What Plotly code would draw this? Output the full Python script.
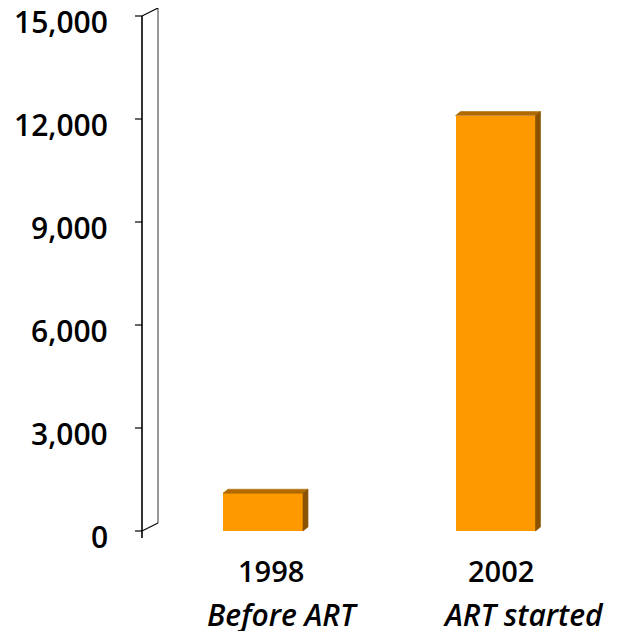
import plotly.graph_objects as go

# ---- data ----
years = ["1998", "2002"]
subtitles = ["Before ART", "ART started"]
values = [1100, 12100]
tick_vals = [0, 3000, 6000, 9000, 12000, 15000]
tick_text = ["0", "3,000", "6,000", "9,000", "12,000", "15,000"]

# ---- geometry / style (pixel values are in figure coordinates) ----
W, H = 611, 623
front_color = "#FF9900"
top_color = "#B06A00"
side_color = "#8A5300"
FONT = "Open Sans"
WEIGHT = 600

units_per_px_y = 3000 / 103.0
px_per_unit_x = 232.5
zero_px = 523          # pixel row of y=0
cat0_px = 255          # pixel column of category 0
m_l, m_r, m_t, m_b = 112, 0, 0, 90

ymax = (zero_px - m_t) * units_per_px_y
ymin = -((H - m_b) - zero_px) * units_per_px_y
xmin = (m_l - cat0_px) / px_per_unit_x
xmax = (W - m_r - cat0_px) / px_per_unit_x

bar_w = 80 / px_per_unit_x
bdx = 5 / px_per_unit_x          # bar depth (x)
bdy = 4 * units_per_px_y         # bar depth (y)
axis_x = (134 - cat0_px) / px_per_unit_x
tick_x0 = (127 - cat0_px) / px_per_unit_x
wdx = 16 / px_per_unit_x         # wall depth
wdy = 8 * units_per_px_y

year_shift = [8, 5]
sub_shift = [19, 28]

xs = list(range(len(years)))

fig = go.Figure()
# front faces
fig.add_trace(go.Bar(x=xs, y=values, width=bar_w, marker=dict(color=front_color, line=dict(width=0)),
                     showlegend=False, hoverinfo="skip"))
# top and side faces
for x, v in zip(xs, values):
    xl, xr = x - bar_w / 2, x + bar_w / 2
    fig.add_trace(go.Scatter(x=[xl, xl + bdx, xr + bdx, xr, xl], y=[v, v + bdy, v + bdy, v, v],
                             fill="toself", fillcolor=top_color, mode="lines",
                             line=dict(width=0.6, color=top_color), showlegend=False, hoverinfo="skip"))
    fig.add_trace(go.Scatter(x=[xr, xr + bdx, xr + bdx, xr, xr], y=[0, bdy, v + bdy, v, 0],
                             fill="toself", fillcolor=side_color, mode="lines",
                             line=dict(width=0.6, color=side_color), showlegend=False, hoverinfo="skip"))

shapes = []
top = tick_vals[-1]
# front axis line
shapes.append(dict(type="line", xref="x", yref="y", x0=axis_x, x1=axis_x, y0=-7 * units_per_px_y, y1=top,
                   line=dict(color="#000000", width=1.6)))
# back wall line
shapes.append(dict(type="line", xref="x", yref="y", x0=axis_x + wdx, x1=axis_x + wdx, y0=wdy, y1=top + wdy,
                   line=dict(color="#808080", width=1.6)))
# diagonals
for yv in (0, top):
    shapes.append(dict(type="line", xref="x", yref="y", x0=axis_x, x1=axis_x + wdx, y0=yv, y1=yv + wdy,
                       line=dict(color="#000000", width=1.2)))
# tick marks
for tv in tick_vals:
    shapes.append(dict(type="line", xref="x", yref="y", x0=tick_x0, x1=axis_x, y0=tv, y1=tv,
                       line=dict(color="#000000", width=1.2)))

annotations = []
# y tick labels
for tv, tt in zip(tick_vals, tick_text):
    annotations.append(dict(x=0, y=tv, xref="paper", yref="y", xanchor="right", yanchor="middle",
                            text=tt, showarrow=False, xshift=-10, yshift=-5,
                            font=dict(family=FONT, size=30, color="#000000", weight=WEIGHT)))
# category labels
for x, yr, sub, ys, ss in zip(xs, years, subtitles, year_shift, sub_shift):
    annotations.append(dict(x=x, y=0, xref="x", yref="paper", yanchor="middle", xanchor="center",
                            text=yr, showarrow=False, xshift=ys, yshift=-(562 - (H - m_b)),
                            font=dict(family=FONT, size=29, color="#000000", weight=WEIGHT)))
    annotations.append(dict(x=x, y=0, xref="x", yref="paper", yanchor="middle", xanchor="center",
                            text="<i>" + sub + "</i>", showarrow=False, xshift=ss, yshift=-(606 - (H - m_b)),
                            font=dict(family=FONT, size=30, color="#000000", weight=WEIGHT)))

fig.update_layout(
    width=W, height=H,
    margin=dict(l=m_l, r=m_r, t=m_t, b=m_b),
    paper_bgcolor="white", plot_bgcolor="white",
    shapes=shapes, annotations=annotations,
    xaxis=dict(range=[xmin, xmax], showgrid=False, zeroline=False, showline=False,
               showticklabels=False, ticks=""),
    yaxis=dict(range=[ymin, ymax], showgrid=False, zeroline=False, showline=False,
               showticklabels=False, ticks=""),
    bargap=0,
)
fig.write_html("out.html")
